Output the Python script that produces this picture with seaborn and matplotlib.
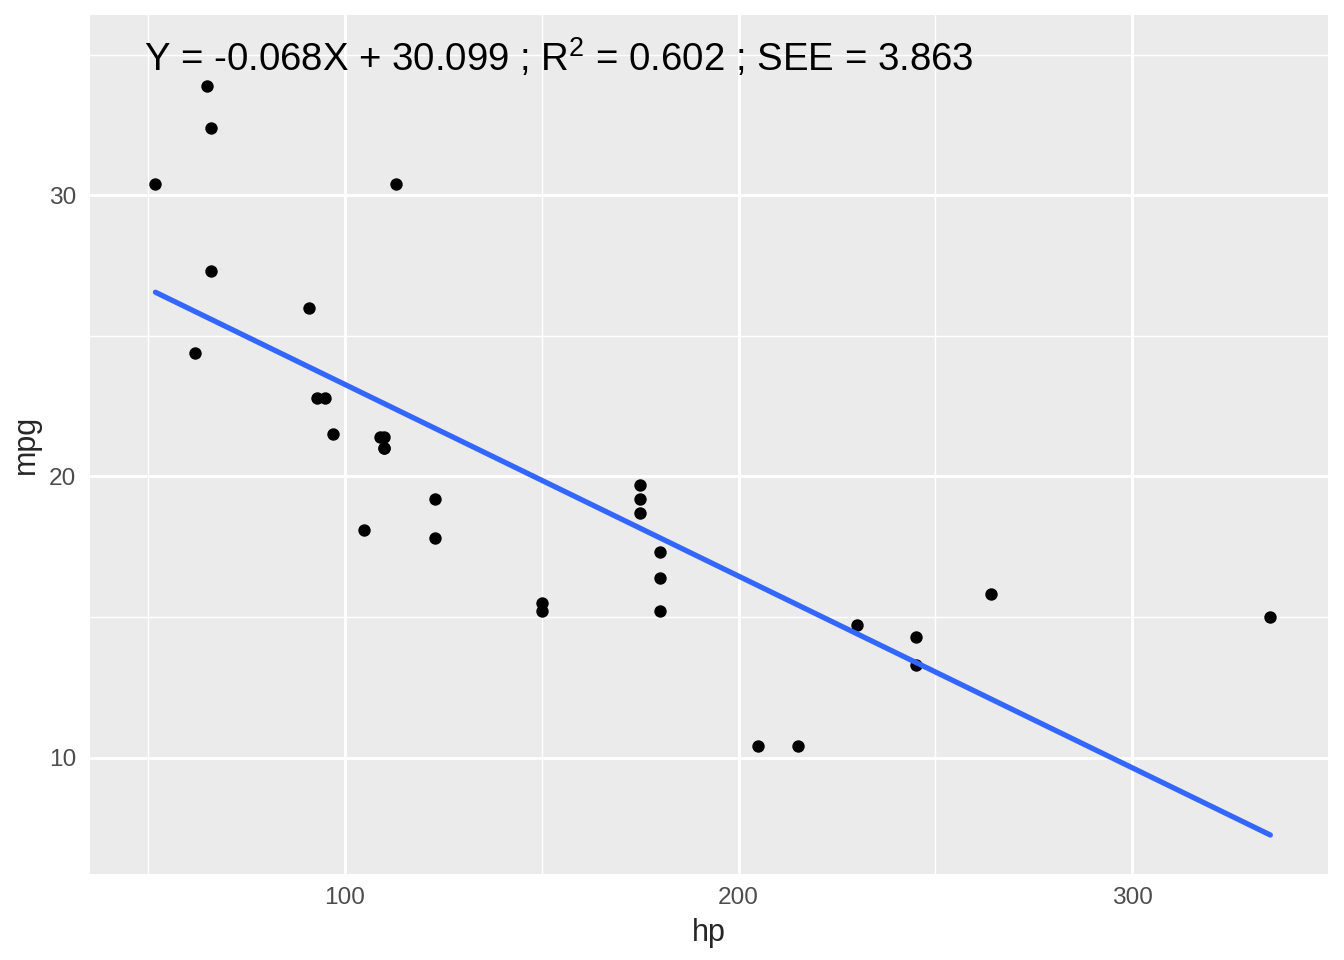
import seaborn as sns
import pandas as pd
import matplotlib.pyplot as plt
import numpy as np

# mtcars: horsepower vs miles per gallon
hp = [110, 110, 93, 110, 175, 105, 245, 62, 95, 123, 123, 180, 180, 180, 205, 215,
      230, 66, 52, 65, 97, 150, 150, 245, 175, 66, 91, 113, 264, 175, 335, 109]
mpg = [21.0, 21.0, 22.8, 21.4, 18.7, 18.1, 14.3, 24.4, 22.8, 19.2, 17.8, 16.4, 17.3, 15.2, 10.4, 10.4,
       14.7, 32.4, 30.4, 33.9, 21.5, 15.5, 15.2, 13.3, 19.2, 27.3, 26.0, 30.4, 15.8, 19.7, 15.0, 21.4]
label = "Y = -0.068X + 30.099 ; R$^{\\mathrm{2}}$ = 0.602 ; SEE = 3.863"

cars = pd.DataFrame({'hp': hp, 'mpg': mpg})

sns.set_style("darkgrid", {'axes.facecolor': '#EBEBEB', 'grid.color': 'white'})
plt.rcParams['font.family'] = ['Liberation Sans', 'DejaVu Sans']
plt.rcParams['mathtext.fontset'] = 'custom'
plt.rcParams['mathtext.rm'] = 'Liberation Sans'

fig, ax = plt.subplots(figsize=(6.72, 4.8), dpi=200)
fig.subplots_adjust(left=0.067, right=0.988, top=0.984, bottom=0.09)

ax.set_xlim(35.4, 349.6)
ax.set_ylim(5.87, 36.4)
ax.set_xticks([100, 200, 300])
ax.set_yticks([10, 20, 30])
ax.set_xticks([50, 150, 250], minor=True)
ax.set_yticks([15, 25, 35], minor=True)
ax.grid(which='major', color='white', linewidth=1.07)
ax.grid(which='minor', color='white', linewidth=0.53)
for s in ax.spines.values():
    s.set_visible(False)

sns.regplot(data=cars, x='hp', y='mpg', ci=None, ax=ax,
            scatter_kws={'color': 'black', 's': 20, 'alpha': 1, 'linewidths': 0},
            line_kws={'color': '#3366FF', 'linewidth': 1.9})

ax.text(49.2, 34.9, label, ha='left', va='center', fontsize=13.8, color='black')

ax.tick_params(axis='both', which='major', length=2.75, width=0.5, color='#333333',
               labelsize=8.8, labelcolor='#4D4D4D', pad=2.2)
ax.tick_params(axis='both', which='minor', length=0)
ax.set_xlabel('hp', fontsize=11, labelpad=3)
ax.set_ylabel('mpg', fontsize=11, labelpad=3)

fig.savefig('out.png', dpi=200, facecolor='white')
